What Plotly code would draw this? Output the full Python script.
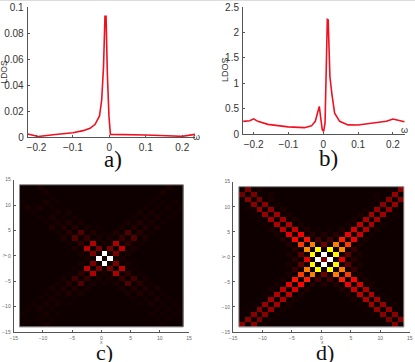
import plotly.graph_objects as go

W, H = 415, 362

# LDOS curves read off panels a) and b)
omega_a = [-0.224, -0.195, -0.154, -0.1, -0.072, -0.053, -0.039, -0.027, -0.021, -0.016, -0.012, -0.009,
           -0.0055, -0.001, 0.003, 0.048, 0.1, 0.157, 0.2, 0.235]
ldos_a = [0.0023, 0.0004, 0.0018, 0.0033, 0.0049, 0.0067, 0.0098, 0.0162, 0.0285, 0.054, 0.093, 0.093,
          0.049, 0.0157, 0.002, 0.002, 0.0015, 0.001, 0.0005, 0.002]
omega_b = [-0.23, -0.211, -0.2, -0.188, -0.159, -0.101, -0.054, -0.034, -0.023, -0.015, -0.0115, -0.008,
           -0.003, 0.001, 0.005, 0.0086, 0.0115, 0.014, 0.019, 0.025, 0.0325, 0.047, 0.071, 0.0995, 0.147,
           0.181, 0.2, 0.214, 0.233]
ldos_b = [0.25, 0.26, 0.30, 0.25, 0.19, 0.14, 0.125, 0.16, 0.25, 0.45, 0.545, 0.35,
          0.085, 0.05, 0.22, 1.33, 2.26, 2.25, 1.13, 0.77, 0.41, 0.25, 0.18, 0.177, 0.22,
          0.25, 0.295, 0.27, 0.24]

omega_ticks = [-0.2, -0.1, 0, 0.1, 0.2]
omega_labels = ["\u22120.2", "\u22120.1", "0", "0.1", "0.2"]
ldos_a_ticks = [0, 0.02, 0.04, 0.06, 0.08, 0.1]
ldos_a_labels = ["0", "0.02", "0.04", "0.06", "0.08", "0.1"]
ldos_b_ticks = [0, 0.5, 1, 1.5, 2, 2.5]
ldos_b_labels = ["0", "0.5", "1", "1.5", "2", "2.5"]
site_ticks = [-15, -10, -5, 0, 5, 10, 15]
site_labels = ["\u221215", "\u221210", "\u22125", "0", "5", "10", "15"]

# cell centres of the 28 x 28 site maps
site_x = [-13.5, -12.5, -11.5, -10.5, -9.5, -8.5, -7.5, -6.5, -5.5, -4.5, -3.5, -2.5, -1.5, -0.5,
          0.5, 1.5, 2.5, 3.5, 4.5, 5.5, 6.5, 7.5, 8.5, 9.5, 10.5, 11.5, 12.5, 13.5]
site_y = [13.5, 12.5, 11.5, 10.5, 9.5, 8.5, 7.5, 6.5, 5.5, 4.5, 3.5, 2.5, 1.5, 0.5,
          -0.5, -1.5, -2.5, -3.5, -4.5, -5.5, -6.5, -7.5, -8.5, -9.5, -10.5, -11.5, -12.5, -13.5]

# panel c), intensity in percent of the colour scale, top row first
map_c = [
    [2,2,2,4,2,2,2,2,2,2,2,2,2,2,2,2,2,2,2,2,2,2,2,2,2,4,2,2],
    [2,2,2,2,4,2,2,2,2,2,2,2,2,2,2,2,2,2,2,2,2,2,2,2,4,2,2,2],
    [2,2,2,2,2,3,2,2,2,2,2,2,2,2,2,2,2,2,2,2,2,2,2,3,2,2,2,2],
    [3,2,2,2,4,2,3,2,2,2,2,2,2,2,2,2,2,2,2,2,2,2,3,2,3,2,3,2],
    [2,4,2,4,2,3,2,3,2,2,2,2,2,2,2,2,2,2,2,2,2,3,2,3,2,3,2,3],
    [2,2,3,2,2,2,4,2,4,2,2,2,2,2,2,2,2,2,2,2,4,2,4,2,3,2,3,2],
    [2,2,2,3,2,4,2,3,2,3,2,2,2,2,2,2,2,2,2,3,2,4,2,4,2,3,2,2],
    [2,2,2,2,3,2,4,2,5,2,4,2,2,2,2,2,2,2,4,2,5,2,4,2,3,2,2,2],
    [2,2,2,2,2,5,2,5,2,5,2,4,2,3,2,2,2,4,2,5,2,5,2,4,2,2,2,2],
    [2,2,2,2,2,2,3,2,6,2,12,2,5,2,3,2,5,2,12,2,6,2,3,2,2,2,2,2],
    [2,2,2,2,2,2,2,5,2,12,2,8,2,4,2,4,2,8,2,12,2,5,2,2,2,2,2,2],
    [2,2,2,2,2,2,2,2,3,2,7,2,26,2,4,2,26,2,7,2,3,2,2,2,2,2,2,2],
    [2,2,2,2,2,2,2,2,2,4,2,28,2,17,2,17,2,28,2,4,2,2,2,2,2,2,2,2],
    [2,2,2,2,2,2,2,2,2,2,4,2,18,2,100,2,18,2,4,2,2,2,2,2,2,2,2,2],
    [2,2,2,2,2,2,2,2,2,2,2,4,2,100,3,100,2,4,2,2,2,2,2,2,2,2,2,2],
    [2,2,2,2,2,2,2,2,2,2,4,2,18,2,100,2,18,2,4,2,2,2,2,2,2,2,2,2],
    [2,2,2,2,2,2,2,2,2,3,2,28,2,17,2,17,2,28,2,3,2,2,2,2,2,2,2,2],
    [2,2,2,2,2,2,2,2,3,2,7,2,26,2,4,2,26,2,7,2,3,2,2,2,2,2,2,2],
    [2,2,2,2,2,2,2,4,2,10,2,8,2,4,2,4,2,8,2,10,2,4,2,2,2,2,2,2],
    [2,2,2,2,2,2,3,2,6,2,12,2,4,2,3,2,4,2,12,2,6,2,3,2,2,2,2,2],
    [2,2,2,2,2,4,2,5,2,5,2,4,2,2,2,2,2,4,2,5,2,5,2,4,2,2,2,2],
    [2,2,2,2,3,2,4,2,5,2,4,2,2,2,2,2,2,2,4,2,5,2,4,2,3,2,2,2],
    [2,2,2,3,2,4,2,3,2,3,2,2,2,2,2,2,2,2,2,3,2,3,2,4,2,3,2,2],
    [2,2,3,2,4,2,4,2,3,2,2,2,2,2,2,2,2,2,2,2,3,2,4,2,3,2,3,2],
    [2,3,2,4,2,3,2,2,2,2,2,2,2,2,2,2,2,2,2,2,2,2,2,3,2,3,2,3],
    [3,2,2,2,4,2,3,2,2,2,2,2,2,2,2,2,2,2,2,2,2,2,3,2,3,2,3,2],
    [2,2,2,3,2,3,2,2,2,2,2,2,2,2,2,2,2,2,2,2,2,2,2,3,2,3,2,2],
    [2,2,2,2,4,2,2,2,2,2,2,2,2,2,2,2,2,2,2,2,2,2,2,2,3,2,2,2],
]

# panel d)
map_d = [
    [2,18,2,4,2,2,2,2,2,2,2,2,2,2,2,2,2,2,2,2,2,2,2,2,2,3,2,20],
    [16,2,18,2,2,4,2,2,2,2,2,2,2,2,2,2,2,2,2,2,2,2,2,3,2,2,22,2],
    [2,20,2,18,2,4,2,2,2,2,2,2,2,2,2,2,2,2,2,2,2,2,2,3,2,20,2,20],
    [2,2,20,2,20,2,3,2,2,2,2,2,2,2,2,2,2,2,2,2,2,2,3,2,20,2,22,2],
    [2,3,2,22,2,21,2,4,2,2,2,2,2,2,2,2,2,2,2,2,2,3,2,22,2,22,2,2],
    [2,2,3,2,22,2,24,2,4,2,2,2,2,2,2,2,2,2,2,2,4,2,24,2,24,2,3,2],
    [2,2,2,3,2,24,2,24,2,4,2,2,2,2,2,2,2,2,2,4,2,25,2,24,2,3,2,2],
    [2,2,2,2,3,2,26,2,26,2,4,2,2,2,2,2,2,2,4,2,28,2,25,2,3,2,2,2],
    [2,2,2,2,2,4,2,28,2,30,2,5,2,3,2,3,2,5,2,32,2,27,2,4,2,2,2,2],
    [2,2,2,2,2,2,4,2,34,2,37,2,6,2,5,2,6,2,36,2,30,2,3,2,2,2,2,2],
    [2,2,2,2,2,2,2,5,2,38,2,40,2,10,2,10,2,42,2,36,2,4,2,2,2,2,2,2],
    [2,2,2,2,2,2,2,2,5,2,46,2,56,2,16,2,56,2,46,2,4,2,2,2,2,2,2,2],
    [2,2,2,2,2,2,2,2,2,6,2,58,2,75,2,75,2,58,2,8,2,2,2,2,2,2,2,2],
    [2,2,2,2,2,2,2,2,4,2,14,2,74,2,100,2,74,2,14,2,4,2,2,2,2,2,2,2],
    [2,2,2,2,2,2,2,2,2,6,2,34,2,100,18,100,2,34,2,6,2,2,2,2,2,2,2,2],
    [2,2,2,2,2,2,2,2,4,2,14,2,74,2,100,2,74,2,14,2,4,2,2,2,2,2,2,2],
    [2,2,2,2,2,2,2,2,2,8,2,56,2,75,2,75,2,56,2,8,2,2,2,2,2,2,2,2],
    [2,2,2,2,2,2,2,2,4,2,46,2,56,2,16,2,56,2,46,2,4,2,2,2,2,2,2,2],
    [2,2,2,2,2,2,2,4,2,40,2,42,2,10,2,10,2,42,2,38,2,4,2,2,2,2,2,2],
    [2,2,2,2,2,2,4,2,34,2,38,2,5,2,5,2,5,2,36,2,32,2,4,2,2,2,2,2],
    [2,2,2,2,2,4,2,28,2,32,2,5,2,2,2,2,2,5,2,30,2,26,2,3,2,2,2,2],
    [2,2,2,2,3,2,26,2,28,2,4,2,2,2,2,2,2,2,4,2,28,2,26,2,3,2,2,2],
    [2,2,2,3,2,24,2,25,2,4,2,2,2,2,2,2,2,2,2,4,2,26,2,24,2,3,2,2],
    [2,2,3,2,22,2,24,2,4,2,2,2,2,2,2,2,2,2,2,2,3,2,24,2,22,2,3,2],
    [2,3,2,20,2,22,2,3,2,2,2,2,2,2,2,2,2,2,2,2,2,3,2,22,2,22,2,2],
    [2,2,20,2,20,2,3,2,2,2,2,2,2,2,2,2,2,2,2,2,2,2,3,2,20,2,20,2],
    [2,20,2,18,2,3,2,2,2,2,2,2,2,2,2,2,2,2,2,2,2,2,2,2,2,18,2,20],
    [20,2,20,2,3,2,2,2,2,2,2,2,2,2,2,2,2,2,2,2,2,2,2,2,2,2,20,2],
]

hot = [[0, "#000000"], [0.375, "#ff0000"], [0.75, "#ffff00"], [1, "#ffffff"]]
SPINE = "#555555"
TEXT = "#333333"
SMALL = "#666666"


def dom_x(a, b):
    return [a / W, b / W]


def dom_y(top, bottom):
    return [1 - bottom / H, 1 - top / H]


def note(px, py, text, size, family="Liberation Sans", color=TEXT, angle=0):
    return dict(xref="paper", yref="paper", x=px / W, y=1 - py / H, text=text, showarrow=False,
                font=dict(size=size, family=family, color=color), textangle=angle,
                xanchor="center", yanchor="middle")


def line_axis(anchor, domain, rng, vals, text, size=10, tick=2, color=TEXT):
    return dict(anchor=anchor, domain=domain, range=rng, tickmode="array", tickvals=vals, ticktext=text,
                ticks="inside", ticklen=tick, tickcolor=SPINE, tickwidth=1, showgrid=False,
                zeroline=False, showline=True, linecolor=SPINE, linewidth=1,
                tickfont=dict(size=size, family="Liberation Sans", color=color), ticklabelstandoff=1)


fig = go.Figure()
fig.add_trace(go.Scatter(x=omega_a, y=ldos_a, mode="lines", line=dict(color="#f01020", width=1.6),
                         xaxis="x", yaxis="y", showlegend=False))
fig.add_trace(go.Scatter(x=omega_b, y=ldos_b, mode="lines", line=dict(color="#f01020", width=1.6),
                         xaxis="x2", yaxis="y2", showlegend=False))
fig.add_trace(go.Heatmap(x=site_x, y=site_y, z=map_c, zmin=0, zmax=100, colorscale=hot, showscale=False,
                         xaxis="x3", yaxis="y3"))
fig.add_trace(go.Heatmap(x=site_x, y=site_y, z=map_d, zmin=0, zmax=100, colorscale=hot, showscale=False,
                         xaxis="x4", yaxis="y4"))

fig.update_layout(
    width=W, height=H, paper_bgcolor="white", plot_bgcolor="white",
    # annotations near the edge must not push the plots inwards
    margin=dict(l=0, r=0, t=0, b=0, autoexpand=False),
    xaxis=line_axis("y", dom_x(27.7, 195), [-0.224, 0.235], omega_ticks, omega_labels),
    yaxis=line_axis("x", dom_y(7.3, 137), [0, 0.1], ldos_a_ticks, ldos_a_labels),
    xaxis2=line_axis("y2", dom_x(243, 405), [-0.2305, 0.2345], omega_ticks, omega_labels),
    yaxis2=line_axis("x2", dom_y(7.3, 134), [0, 2.5], ldos_b_ticks, ldos_b_labels),
    xaxis3=line_axis("y3", dom_x(13.7, 189), [-15, 15], site_ticks, site_labels, size=5, color=SMALL),
    yaxis3=line_axis("x3", dom_y(179.7, 332), [-15, 15], site_ticks, site_labels, size=5, color=SMALL),
    xaxis4=line_axis("y4", dom_x(233, 409.7), [-15, 15], site_ticks, site_labels, size=5, color=SMALL),
    yaxis4=line_axis("x4", dom_y(181.7, 332), [-15, 15], site_ticks, site_labels, size=5, color=SMALL),
    shapes=[
        # grey frame round the maps
        dict(type="rect", xref="x3", yref="y3", x0=-14, x1=14, y0=-14, y1=14, line=dict(color="#888888", width=1)),
        dict(type="rect", xref="x4", yref="y4", x0=-14, x1=14, y0=-14, y1=14, line=dict(color="#888888", width=1)),
        # light strip along the top of the scan
        dict(type="line", xref="paper", yref="paper", x0=0, x1=1, y0=1 - 0.5 / H, y1=1 - 0.5 / H,
             line=dict(color="#dddddd", width=1)),
    ],
    annotations=[
        note(113, 159.5, "a)", 23, "Liberation Serif", "#111111"),
        note(328, 158.5, "b)", 23, "Liberation Serif", "#111111"),
        note(104, 352.5, "c)", 22, "Liberation Serif", "#111111"),
        note(325, 352.5, "d)", 22, "Liberation Serif", "#111111"),
        note(3.5, 72, "LDOS", 8.5, angle=-90),
        note(225, 70, "LDOS", 9, angle=-90),
        note(196, 137, "\u03c9", 9),
        note(404, 130, "\u03c9", 9),
        note(101.5, 342, "x", 5, color=SMALL),
        note(3.5, 255, "y", 5, color=SMALL, angle=-90),
        note(322, 342, "x", 5, color=SMALL),
        note(223, 257, "y", 5, color=SMALL, angle=-90),
    ],
)

fig.write_html("out.html", config=dict(displayModeBar=False), post_script="document.body.style.margin='0';")
